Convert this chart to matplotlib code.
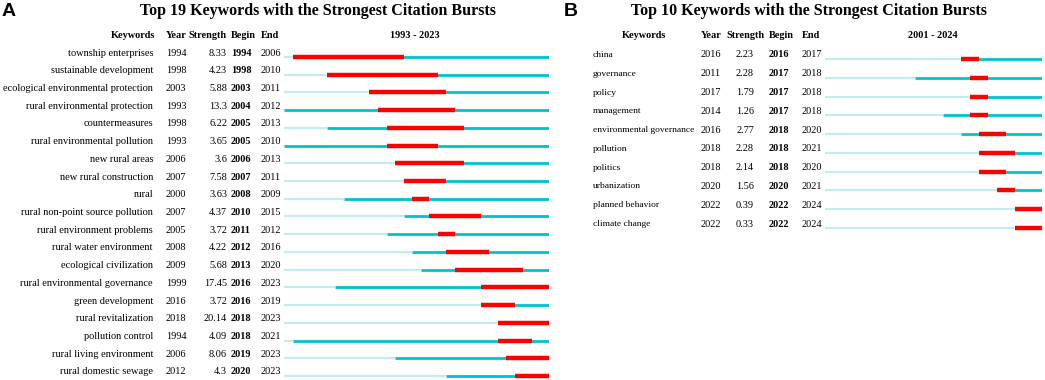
import matplotlib
matplotlib.use('Agg')
import matplotlib.pyplot as plt
from matplotlib.transforms import blended_transform_factory

plt.rcParams['font.family'] = 'Liberation Serif'

# Panel A data
kw_a = ['township enterprises', 'sustainable development', 'ecological environmental protection',
        'rural environmental protection', 'countermeasures', 'rural environmental pollution',
        'new rural areas', 'new rural construction', 'rural', 'rural non-point source pollution',
        'rural environment problems', 'rural water environment', 'ecological civilization',
        'rural environmental governance', 'green development', 'rural revitalization',
        'pollution control', 'rural living environment', 'rural domestic sewage']
year_a = [1994, 1998, 2003, 1993, 1998, 1993, 2006, 2007, 2000, 2007, 2005, 2008, 2009, 1999, 2016, 2018, 1994, 2006, 2012]
strength_a = ['8.33', '4.23', '5.88', '13.3', '6.22', '3.65', '3.6', '7.58', '3.63', '4.37', '3.72', '4.22', '5.68',
              '17.45', '3.72', '20.14', '4.09', '8.06', '4.3']
begin_a = [1994, 1998, 2003, 2004, 2005, 2005, 2006, 2007, 2008, 2010, 2011, 2012, 2013, 2016, 2016, 2018, 2018, 2019, 2020]
end_a = [2006, 2010, 2011, 2012, 2013, 2010, 2013, 2011, 2009, 2015, 2012, 2016, 2020, 2023, 2019, 2023, 2021, 2023, 2023]
range_a = (1993, 2023)

# Panel B data
kw_b = ['china', 'governance', 'policy', 'management', 'environmental governance', 'pollution',
        'politics', 'urbanization', 'planned behavior', 'climate change']
year_b = [2016, 2011, 2017, 2014, 2016, 2018, 2018, 2020, 2022, 2022]
strength_b = ['2.23', '2.28', '1.79', '1.26', '2.77', '2.28', '2.14', '1.56', '0.39', '0.33']
begin_b = [2016, 2017, 2017, 2017, 2018, 2018, 2018, 2020, 2022, 2022]
end_b = [2017, 2018, 2018, 2018, 2020, 2021, 2020, 2021, 2024, 2024]
range_b = (2001, 2024)

LIGHT = '#c4ecee'
TEAL = '#00c4cc'
RED = '#ff0000'
W, H = 1045, 380
FS = 7.4

fig = plt.figure(figsize=(W / 100, H / 100), dpi=100)


def panel(kw, yr, st, bg, en, rng, x0, x1, bar_y0, dy, cols, kw_align, kw_fs, header_x, strength_hx,
          title, title_x, letter, letter_x, range_x):
    n = len(kw)
    top, bot = 40, 380
    ax = fig.add_axes([x0 / W, 0, (x1 - x0) / W, (bot - top) / H])
    ax.set_xlim(rng[0], rng[1] + 1)
    ax.set_ylim((bot - bar_y0) / dy, (top - bar_y0) / dy)
    ax.axis('off')
    for i in range(n):
        ax.hlines(i, rng[0], yr[i], color=LIGHT, lw=1.5, capstyle='butt')
        ax.hlines(i, yr[i], rng[1] + 1, color=TEAL, lw=2.0, capstyle='butt')
        ax.hlines(i, bg[i], en[i] + 1, color=RED, lw=3.2, capstyle='butt')
    tr = blended_transform_factory(fig.transFigure, ax.transData)
    off = 4 / dy
    for i in range(n):
        y = i - off
        ax.text(cols[0] / W, y, kw[i], transform=tr, ha=kw_align, va='center', fontsize=kw_fs)
        ax.text(cols[1] / W, y, str(yr[i]), transform=tr, ha='left', va='center', fontsize=FS)
        ax.text(cols[2] / W, y, st[i], transform=tr, ha='right', va='center', fontsize=FS)
        ax.text(cols[3] / W, y, str(bg[i]), transform=tr, ha='left', va='center', fontsize=FS, fontweight='bold')
        ax.text(cols[4] / W, y, str(en[i]), transform=tr, ha='left', va='center', fontsize=FS)
    hy = 1 - 35 / H
    fig.text(header_x / W, hy, 'Keywords', ha='center', va='center', fontsize=FS, fontweight='bold')
    fig.text(cols[1] / W, hy, 'Year', ha='left', va='center', fontsize=FS, fontweight='bold')
    fig.text(strength_hx / W, hy, 'Strength', ha='right', va='center', fontsize=FS, fontweight='bold')
    fig.text(cols[3] / W, hy, 'Begin', ha='left', va='center', fontsize=FS, fontweight='bold')
    fig.text(cols[4] / W, hy, 'End', ha='left', va='center', fontsize=FS, fontweight='bold')
    fig.text(range_x / W, hy, f'{rng[0]} - {rng[1]}', ha='center', va='center', fontsize=FS, fontweight='bold')
    fig.text(title_x / W, 1 - 11 / H, title, ha='center', va='center', fontsize=11.5, fontweight='bold')
    fig.text(letter_x / W, 1 - 11 / H, letter, ha='left', va='center', fontsize=14, fontweight='bold',
             family='Liberation Sans')


panel(kw_a, year_a, strength_a, begin_a, end_a, range_a, 284, 549, 57, 17.72,
      [153, 166, 227, 231, 261], 'right', 7.5, 133, 227,
      'Top 19 Keywords with the Strongest Citation Bursts', 318, 'A', 2, 415)
panel(kw_b, year_b, strength_b, begin_b, end_b, range_b, 825, 1042, 59, 18.78,
      [593, 701, 754, 769, 802], 'left', 6.8, 644, 765,
      'Top 10 Keywords with the Strongest Citation Bursts', 809, 'B', 564, 933)

fig.savefig('out.png', dpi=100)
